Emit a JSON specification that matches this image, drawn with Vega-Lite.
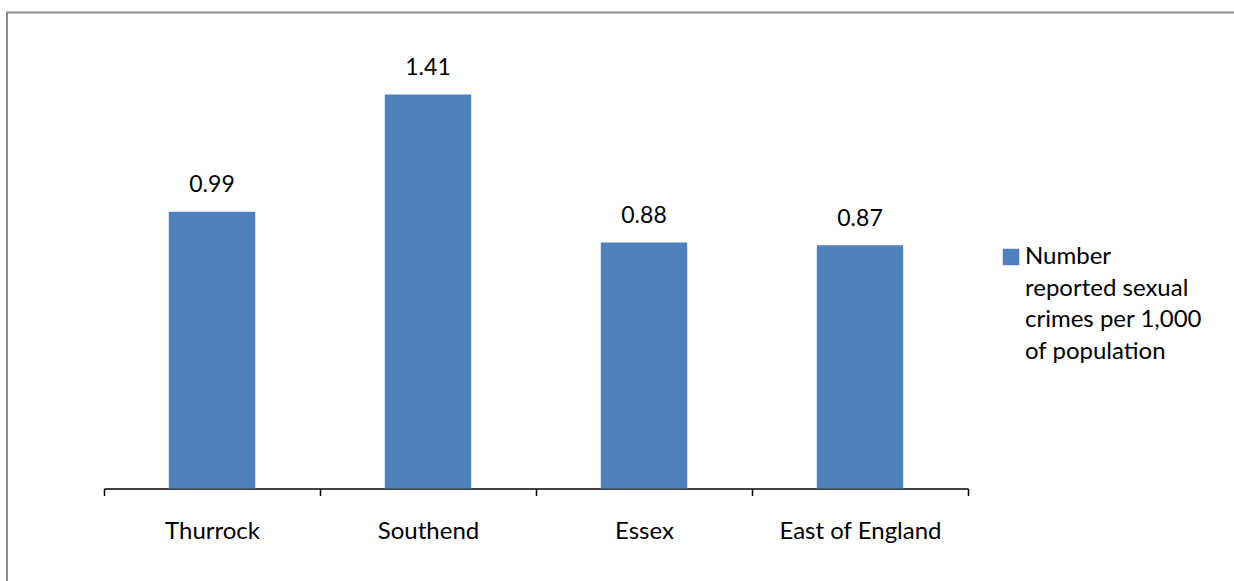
{
  "$schema": "https://vega.github.io/schema/vega-lite/v6.json",
  "autosize": "none",
  "width": 1237,
  "height": 578.5,
  "padding": {"left": 7, "top": 12.5, "right": -10, "bottom": -10},
  "background": "white",
  "config": {
    "font": "Lato",
    "view": {"stroke": "#8c8c8c", "strokeWidth": 2},
    "style": {"guide-label": {"lineHeight": 31.5}}
  },
  "data": {
    "values": [
      {"area": "Thurrock", "rate": 0.99},
      {"area": "Southend", "rate": 1.41},
      {"area": "Essex", "rate": 0.88},
      {"area": "East of England", "rate": 0.87}
    ]
  },
  "encoding": {
    "x": {
      "field": "area",
      "type": "nominal",
      "sort": null,
      "scale": {"range": [97, 961], "paddingInner": 0, "paddingOuter": 0},
      "axis": {
        "title": null,
        "orient": "bottom",
        "offset": -102.5,
        "tickBand": "extent",
        "domainColor": "#000000",
        "domainWidth": 1.5,
        "tickColor": "#000000",
        "tickWidth": 1.5,
        "tickSize": 7,
        "labelAngle": 0,
        "labelBaseline": "alphabetic",
        "labelPadding": 43,
        "labelFontSize": 24,
        "labelColor": "#000000",
        "labelFont": "Lato"
      }
    },
    "y": {
      "field": "rate",
      "type": "quantitative",
      "scale": {"domain": [0, 1.6], "range": [476, 28.8], "nice": false},
      "axis": null
    }
  },
  "layer": [
    {
      "mark": {"type": "bar", "width": {"band": 0.4}},
      "encoding": {
        "color": {
          "datum": "Number|reported sexual|crimes per 1,000|of population",
          "type": "nominal",
          "scale": {"range": ["#4f81bd"]},
          "legend": {
            "title": null,
            "orient": "none",
            "legendX": 992,
            "legendY": 239.5,
            "padding": 0,
            "symbolType": "M-1,-1.85H1V0.15H-1Z",
            "symbolSize": 272,
            "symbolStrokeWidth": 0,
            "symbolOpacity": 1,
            "labelExpr": "split(datum.label, '|')",
            "labelBaseline": "alphabetic",
            "labelFontSize": 24,
            "labelFont": "Lato",
            "labelColor": "#000000",
            "labelOffset": 2,
            "labelLimit": 400
          }
        }
      }
    },
    {
      "mark": {"type": "text", "baseline": "alphabetic", "dy": -19.5, "fontSize": 23, "font": "Lato", "color": "#000000"},
      "encoding": {
        "text": {"field": "rate", "type": "quantitative", "format": ".2f"}
      }
    }
  ]
}
